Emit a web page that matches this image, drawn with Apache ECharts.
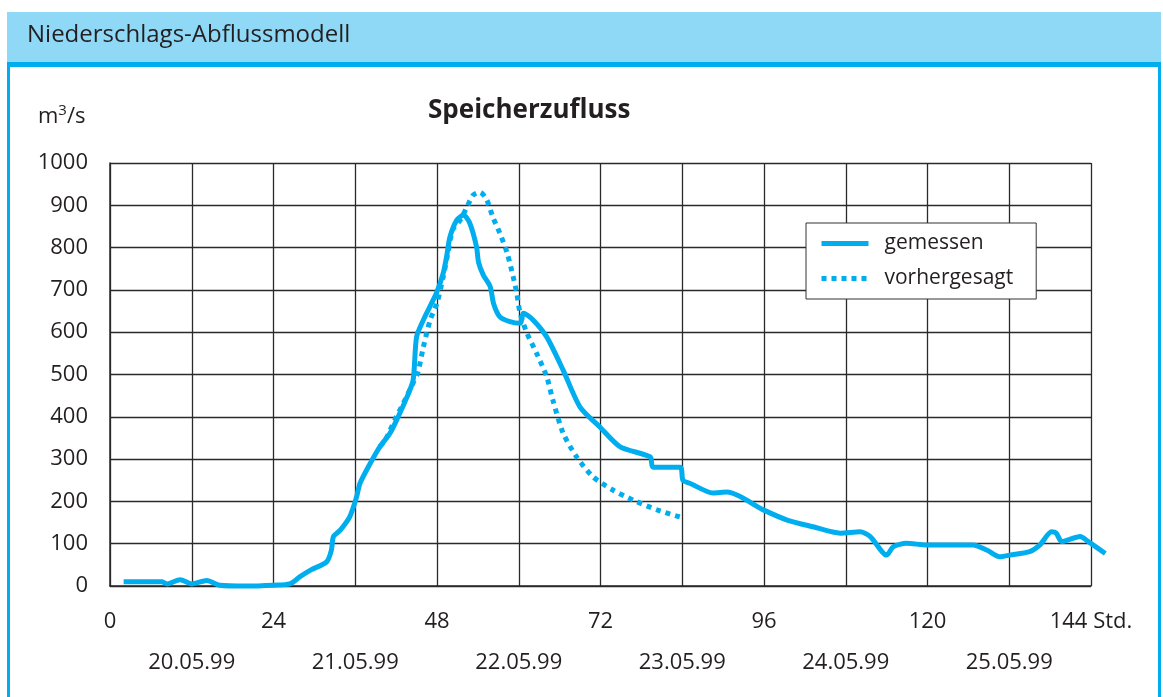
<!DOCTYPE html>
<html>
<head>
<meta charset="utf-8">
<title>Speicherzufluss</title>
<script src="https://cdn.jsdelivr.net/npm/echarts@6/dist/echarts.min.js"></script>
<style>
  html, body { margin: 0; padding: 0; background: #fff; }
  #chart { width: 1163px; height: 697px; }
</style>
</head>
<body>
<div id="chart"></div>
<script>
// Stunden seit Beginn (x) und Abfluss in m3/s (y)
var measuredHours = [2.0, 5.0, 7.6, 8.4, 10.3, 12.0, 14.2, 16.1, 20.0, 24.0,
  26.4, 27.9, 29.5, 31.8, 32.5, 32.8, 33.8, 35.2, 36.2, 36.7,
  38.2, 39.6, 41.1, 42.3, 43.6, 44.5, 45.0, 46.0, 47.9, 48.9,
  49.4, 49.9, 50.9, 51.9, 52.8, 53.8, 54.1, 54.8, 55.8, 56.3,
  57.2, 58.7, 60.2, 60.7, 62.1, 64.1, 66.5, 69.0, 71.9, 74.9,
  79.3, 79.7, 83.7, 84.1, 85.1, 88.5, 90.6, 95.9, 99.4, 103.2,
  107.2, 110.1, 111.6, 114.0, 115.0, 116.9, 119.9, 126.7, 128.7, 130.6,
  132.1, 135.0, 136.5, 138.2, 138.9, 139.7, 142.4, 143.6, 146.1]
var measuredFlow = [10, 10, 10, 5, 15, 5, 13, 2, 0, 2,
  5, 22, 38, 57, 85, 117, 132, 164, 211, 243,
  290, 329, 361, 400, 447, 487, 589, 629, 692, 739,
  778, 825, 865, 877, 858, 802, 765, 735, 708, 668,
  637, 625, 621, 645, 629, 589, 511, 423, 376, 329,
  305, 281, 281, 250, 243, 220, 222, 180, 156, 140,
  125, 128, 117, 73, 93, 101, 97, 97, 85, 69,
  73, 81, 97, 128, 125, 105, 117, 105, 77]

var forecastHours = [39.6, 40.4, 41.8, 43.3, 44.5, 45.2, 46.0, 47.0, 48.0, 48.9,
  49.6, 50.3, 51.4, 52.4, 53.3, 54.3, 55.3, 56.2, 57.2, 58.3,
  59.2, 59.7, 60.2, 61.2, 62.6, 64.1, 65.0, 66.5, 68.5, 70.9,
  73.8, 76.8, 80.3, 84.1]
var forecastFlow = [329, 345, 392, 440, 480, 505, 565, 629, 669, 730,
  787, 842, 865, 896, 924, 931, 913, 872, 835, 787,
  730, 693, 645, 598, 551, 495, 440, 362, 305, 258,
  227, 203, 180, 161]

// Achsenbeschriftung
var hourTicks = [0, 24, 48, 72, 96, 120, 144]
var dayLabels = ['20.05.99', '21.05.99', '22.05.99', '23.05.99', '24.05.99', '25.05.99']

var FONT = '"Open Sans", sans-serif'
var TEXT = '#231f20'
var BLUE = '#00aeef'
var GRID = '#2a2a2a'

// Plotbereich: 0..144 h auf 110..1091 px; die Kurve läuft rechts etwas darüber hinaus
var PLOT_LEFT = 110
var PLOT_WIDTH = 981
var HOUR_MAX = 144
var CURVE_MAX = 147

function pairs(xs, ys) {
  return xs.map(function (x, i) { return [x, ys[i]] })
}

var chart = echarts.init(document.getElementById('chart'))

chart.setOption({
  animation: false,
  textStyle: { fontFamily: FONT, color: TEXT },
  graphic: [
    { type: 'rect', shape: { x: 7, y: 12, width: 1154, height: 50 }, style: { fill: '#8fd8f6' }, silent: true },
    { type: 'rect', shape: { x: 7, y: 62, width: 1154, height: 5 }, style: { fill: BLUE }, silent: true },
    { type: 'rect', shape: { x: 7, y: 62, width: 3, height: 640 }, style: { fill: BLUE }, silent: true },
    { type: 'rect', shape: { x: 1158, y: 62, width: 3, height: 640 }, style: { fill: BLUE }, silent: true },
    {
      type: 'text', left: 27, top: 23, silent: true,
      style: { text: 'Niederschlags-Abflussmodell', fill: TEXT, font: '24px ' + FONT }
    }
  ],
  title: [
    {
      text: 'Speicherzufluss',
      left: 428,
      top: 98,
      padding: 0,
      textStyle: { fontFamily: FONT, fontSize: 26, fontWeight: 'bold', color: TEXT }
    },
    {
      text: 'm{sup|3}/s',
      left: 38,
      top: 103,
      padding: 0,
      textStyle: {
        fontFamily: FONT, fontSize: 22, fontWeight: 'normal', color: TEXT,
        rich: { sup: { fontFamily: FONT, fontSize: 15, color: TEXT, verticalAlign: 'top', lineHeight: 27 } }
      }
    }
  ],
  legend: {
    orient: 'vertical',
    left: 806,
    top: 223,
    padding: [10, 23, 10, 13],
    itemWidth: 47,
    itemHeight: 22,
    itemGap: 14,
    backgroundColor: '#fff',
    borderColor: '#333',
    borderWidth: 1,
    borderRadius: 0,
    itemStyle: { opacity: 0 },
    lineStyle: { width: 5 },
    textStyle: { fontFamily: FONT, fontSize: 21, color: TEXT, padding: [0, 0, 0, 11] },
    data: ['gemessen', 'vorhergesagt']
  },
  grid: [
    { left: PLOT_LEFT, top: 163, width: PLOT_WIDTH, bottom: 111 },
    { left: PLOT_LEFT, top: 163, width: PLOT_WIDTH * CURVE_MAX / HOUR_MAX, bottom: 111 },
    { left: PLOT_LEFT, top: 163, width: PLOT_WIDTH, bottom: 111 }
  ],
  xAxis: [
    {
      type: 'value',
      gridIndex: 0,
      min: 0,
      max: HOUR_MAX,
      interval: 12,
      axisLine: { show: true, lineStyle: { color: GRID, width: 1.5 } },
      axisTick: { show: false },
      splitLine: { show: true, lineStyle: { color: GRID, width: 1.3 } },
      axisLabel: {
        margin: 25,
        showMaxLabel: true,
        fontFamily: FONT,
        fontSize: 22,
        color: TEXT,
        formatter: function (v) {
          if (hourTicks.indexOf(v) < 0) return ''
          return v === 144 ? '144 Std.' : String(v)
        }
      }
    },
    {
      type: 'value',
      gridIndex: 1,
      min: 0,
      max: CURVE_MAX,
      show: false
    },
    {
      // Datumszeile unter den Stunden
      type: 'value',
      gridIndex: 2,
      min: 0,
      max: HOUR_MAX,
      interval: 12,
      axisLine: { show: false },
      axisTick: { show: false },
      splitLine: { show: false },
      axisLabel: {
        margin: 66,
        showMinLabel: true,
        showMaxLabel: true,
        fontFamily: FONT,
        fontSize: 22,
        color: TEXT,
        formatter: function (v) {
          return dayLabels[(v - 12) / 24] || ''
        }
      }
    }
  ],
  yAxis: [
    {
      type: 'value',
      gridIndex: 0,
      min: 0,
      max: 1000,
      interval: 100,
      axisLine: { show: true, lineStyle: { color: GRID, width: 1.5 } },
      axisTick: { show: false },
      splitLine: { show: true, lineStyle: { color: GRID, width: 1.3 } },
      axisLabel: {
        margin: 22, fontFamily: FONT, fontSize: 22, color: TEXT,
        formatter: function (v) { return String(v) }
      }
    },
    { type: 'value', gridIndex: 1, min: 0, max: 1000, show: false },
    { type: 'value', gridIndex: 2, min: 0, max: 1000, show: false }
  ],
  series: [
    {
      name: 'gemessen',
      type: 'line',
      xAxisIndex: 1,
      yAxisIndex: 1,
      data: pairs(measuredHours, measuredFlow),
      symbol: 'none',
      smooth: 0.25,
      clip: false,
      color: BLUE,
      lineStyle: { color: BLUE, width: 5 },
      z: 3
    },
    {
      name: 'vorhergesagt',
      type: 'line',
      xAxisIndex: 1,
      yAxisIndex: 1,
      data: pairs(forecastHours, forecastFlow),
      symbol: 'none',
      smooth: 0.25,
      clip: false,
      color: BLUE,
      lineStyle: { color: BLUE, width: 5, type: [5, 5], cap: 'butt' },
      z: 2
    }
  ]
})
</script>
</body>
</html>
